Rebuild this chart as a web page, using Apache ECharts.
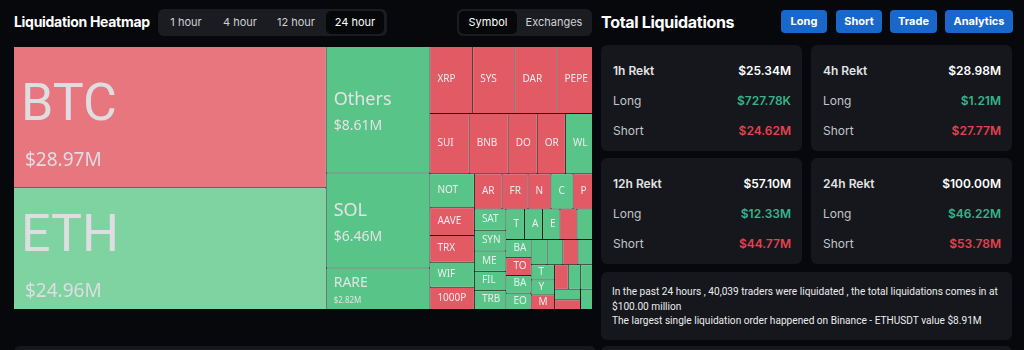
<!DOCTYPE html>
<html>
<head>
<meta charset="utf-8">
<script src="https://cdn.jsdelivr.net/npm/echarts@6/dist/echarts.min.js"></script>
<style>
  html, body { margin: 0; padding: 0; width: 1024px; height: 350px; overflow: hidden; background: #07080b; font-family: Inter, Roboto, sans-serif; }
  .abs { position: absolute; }
  .title { color: #fff; font-weight: 700; font-size: 15px; line-height: 20px; letter-spacing: -0.3px; }
  .seg { background: #1a1c21; border-radius: 6px; }
  .seg span { position: absolute; top: 2px; height: 23px; line-height: 23px; color: #cfd0d3; font-size: 11px; text-align: center; border-radius: 5px; }
  .seg span.on { background: #060709; color: #fff; }
  .btn { top: 10px; height: 23px; line-height: 23px; background: #1a67cb; color: #fff; font-weight: 700; font-size: 11px; border-radius: 4px; text-align: center; }
  .card { background: #15171c; border-radius: 6px; }
  .row { position: absolute; left: 12px; right: 11px; height: 16px; line-height: 16px; font-size: 12px; color: #c4c5c8; }
  .row b { position: absolute; right: 0; top: 0; font-weight: 600; }
  .row.head { color: #e2e3e5; font-weight: 600; }
  .row.head b { color: #fff; }
  .up { color: #35b48b; }
  .dn { color: #e4424f; }
  .info { color: #ececee; font-family: Roboto, sans-serif; font-size: 11px; line-height: 14.5px; white-space: nowrap; transform: scaleX(0.92); transform-origin: 0 0; }
  #heat { left: 14px; top: 47px; width: 578px; height: 262px; }
</style>
</head>
<body>
<div class="abs title" style="left:14px;top:12px;font-size:14px;">Liquidation Heatmap</div>
<div class="abs seg" style="left:158px;top:9px;width:229px;height:27px;">
  <span style="left:6px;width:44px;">1 hour</span>
  <span style="left:60px;width:44px;">4 hour</span>
  <span style="left:112px;width:52px;">12 hour</span>
  <span class="on" style="left:168px;width:58px;">24 hour</span>
</div>
<div class="abs seg" style="left:457px;top:9px;width:135px;height:27px;">
  <span class="on" style="left:2px;width:58px;">Symbol</span>
  <span style="left:64px;width:66px;">Exchanges</span>
</div>

<div class="abs title" style="left:601px;top:12px;font-size:16px;">Total Liquidations</div>
<div class="abs btn" style="left:781px;width:46px;">Long</div>
<div class="abs btn" style="left:836px;width:46px;">Short</div>
<div class="abs btn" style="left:890px;width:47px;">Trade</div>
<div class="abs btn" style="left:945px;width:68px;">Analytics</div>

<div id="cards"></div>

<div class="abs card" style="left:601px;top:272px;width:411px;height:68px;">
  <div class="abs info" style="left:11px;top:13px;">In the past 24 hours , 40,039 traders were liquidated , the total liquidations comes in at<br>$100.00 million<br>The largest single liquidation order happened on Binance - ETHUSDT value $8.91M</div>
</div>
<div class="abs card" style="left:14px;top:346px;width:582px;height:20px;"></div>
<div class="abs card" style="left:601px;top:346px;width:411px;height:20px;"></div>

<div id="heat" class="abs"></div>

<script>
// heatmap data, $M
const symbols = ['BTC', 'ETH', 'Others', 'SOL', 'RARE',
  'XRP', 'SYS', 'DAR', 'PEPE',
  'SUI', 'BNB', 'DOGE', 'ORDI', 'WLD',
  'NOT', 'AAVE', 'TRX', 'WIF', '1000PEPE',
  'ARPA', 'FRONT', 'NMR', 'CRV', 'PEOPLE',
  'SATS', 'SYN', 'MEW', 'FIL', 'TRB',
  'TIA', 'ADA', 'ETC', 'AR', 'OM',
  'BADGER', 'TON', 'BAND', 'EOS',
  'ZK', 'BICO', 'TWT', 'EIGEN',
  'TLM', 'YGG', 'MATIC',
  'NEAR', 'FTM', 'LINK', '1000BONK', 'OP', 'STX'];
const amounts = [28.97, 24.96, 8.61, 6.46, 2.82,
  1.88, 1.86, 1.85, 1.56,
  1.55, 1.54, 1.15, 1.11, 1.07,
  0.99, 0.81, 0.78, 0.73, 0.65,
  0.64, 0.60, 0.53, 0.51, 0.45,
  0.44, 0.43, 0.42, 0.40, 0.39,
  0.37, 0.36, 0.35, 0.34, 0.31,
  0.30, 0.295, 0.29, 0.27,
  0.265, 0.26, 0.25, 0.24,
  0.235, 0.23, 0.225,
  0.22, 0.20, 0.19, 0.18, 0.165, 0.16];
// S = mostly shorts rekt (red), L = mostly longs (green)
const sides = ['S', 'L', 'L', 'L', 'L',
  'S', 'S', 'S', 'S',
  'S', 'S', 'S', 'S', 'L',
  'L', 'S', 'S', 'L', 'S',
  'S', 'S', 'S', 'L', 'S',
  'L', 'L', 'L', 'L', 'L',
  'L', 'L', 'L', 'S', 'L',
  'L', 'S', 'L', 'L',
  'L', 'L', 'S', 'L',
  'L', 'L', 'S',
  'S', 'L', 'L', 'L', 'S', 'L'];

// right panel
const periods = ['1h', '4h', '12h', '24h'];
const totals = ['$25.34M', '$28.98M', '$57.10M', '$100.00M'];
const longs = ['$727.78K', '$1.21M', '$12.33M', '$46.22M'];
const shorts = ['$24.62M', '$27.77M', '$44.77M', '$53.78M'];

const cardBox = document.getElementById('cards');
periods.forEach((p, i) => {
    const left = i % 2 ? 811 : 601;
    const top = i < 2 ? 45 : 158;
    cardBox.insertAdjacentHTML('beforeend',
        `<div class="abs card" style="left:${left}px;top:${top}px;width:201px;height:106px;">
            <div class="row head" style="top:18px;">${p} Rekt<b>${totals[i]}</b></div>
            <div class="row" style="top:48px;">Long<b class="up">${longs[i]}</b></div>
            <div class="row" style="top:78px;">Short<b class="dn">${shorts[i]}</b></div>
        </div>`);
});

const colorOf = (side, v) => side === 'S'
    ? (v >= 20 ? '#e8767e' : '#e15a64')
    : (v >= 20 ? '#7ed3a0' : '#58c487');

// label block height and small nudge per size tier
const tierOf = v => v >= 20 ? [107, 4] : v >= 5 ? [52, 3] : v >= 2 ? [36, 0] : [13, 0];

const buildData = heights => symbols.map((name, i) => {
    const item = {
        name,
        value: amounts[i],
        itemStyle: {color: colorOf(sides[i], amounts[i])}
    };
    if (heights) {
        const [block, nudge] = tierOf(amounts[i]);
        const pad = Math.max(0, Math.floor((heights[name] - block) / 2) + nudge);
        item.label = {padding: [pad, 2, 0, 7]};
    }
    return item;
});

const chart = echarts.init(document.getElementById('heat'));
chart.setOption({
    series: [{
        type: 'treemap',
        left: 0,
        top: 0,
        width: '100%',
        height: '100%',
        roam: false,
        nodeClick: false,
        breadcrumb: {show: false},
        animation: false,
        levels: [{
            itemStyle: {borderColor: '#12191a', borderWidth: 0, gapWidth: 1}
        }],
        label: {
            show: true,
            position: 'insideTopLeft',
            distance: 0,
            padding: [0, 2, 0, 7],
            color: '#e3e3e5',
            fontFamily: 'Noto Sans',
            overflow: 'truncate',
            ellipsis: '',
            formatter: p => {
                const v = p.value;
                const money = '$' + v.toFixed(2) + 'M';
                if (v >= 20) return `{bn|${p.name}}\n{bv|${money}}`;
                if (v >= 5) return `{mn|${p.name}}\n{mv|${money}}`;
                if (v >= 2) return `{sn|${p.name}}\n{sv|${money}}`;
                return `{xn|${p.name}}`;
            },
            rich: {
                bn: {fontSize: 52, lineHeight: 80, fontFamily: 'Roboto', color: '#dedee2'},
                bv: {fontSize: 19, lineHeight: 27, fontFamily: 'Noto Sans', color: '#dedee2', padding: [0, 0, 0, 4]},
                mn: {fontSize: 18, lineHeight: 28, fontFamily: 'Noto Sans', color: '#e3e3e5'},
                mv: {fontSize: 14, lineHeight: 24, fontFamily: 'Noto Sans', color: '#e3e3e5'},
                sn: {fontSize: 14, lineHeight: 24, fontFamily: 'Noto Sans', color: '#e3e3e5'},
                sv: {fontSize: 8, lineHeight: 12, fontFamily: 'Noto Sans', color: '#e3e3e5'},
                xn: {fontSize: 10, lineHeight: 13, fontFamily: 'Noto Sans', color: '#ececee'}
            }
        },
        data: buildData(null)
    }]
});

// centre labels vertically using the heights the treemap layout produced
const root = chart.getModel().getSeriesByIndex(0).getData().tree.root;
const heights = {};
root.children.forEach(n => { heights[n.name] = n.getLayout().height; });
chart.setOption({series: [{data: buildData(heights)}]});
</script>
</body>
</html>
